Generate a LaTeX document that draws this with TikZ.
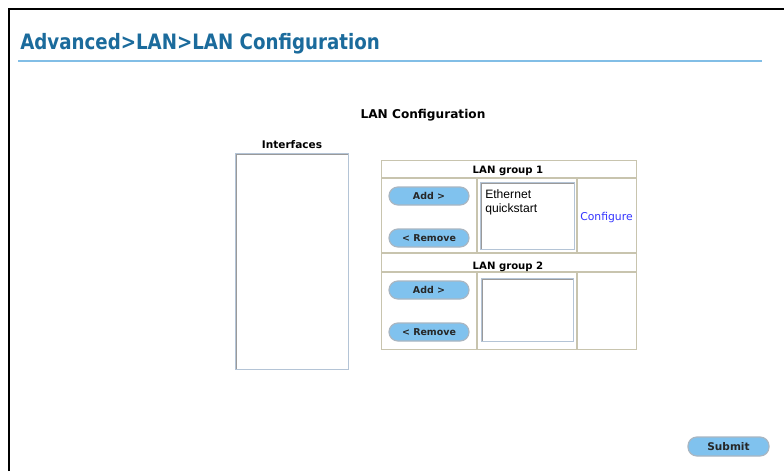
\documentclass[tikz,border=0pt]{standalone}
\usepackage{fontspec}
\setmainfont{DejaVu Sans}
\newfontfamily\titlefont[FakeStretch=0.86]{DejaVu Sans Bold}
\newfontfamily\boldui{DejaVu Sans Bold}
\newfontfamily\arialfont{Liberation Sans}
\definecolor{titleblue}{HTML}{1B6B9C}
\definecolor{rulecol}{HTML}{82BEE6}
\definecolor{tblcol}{HTML}{C8C4AE}
\definecolor{btnfill}{HTML}{80C2EE}
\definecolor{btnedge}{HTML}{A9B6C2}
\definecolor{lbouter}{HTML}{B4C4D6}
\definecolor{lbinner}{HTML}{9A9A9A}
\definecolor{linkblue}{HTML}{3434FF}
\begin{document}
\begin{tikzpicture}[x=0.75pt,y=-0.75pt,
  btn/.style={draw=btnedge, line width=0.9pt, fill=btnfill, rounded corners=6.7pt,
    minimum width=60pt, minimum height=13.5pt, inner sep=0pt,
    font=\boldui\fontsize{7.1}{8}\selectfont, text=black!85},
  listbox/.style={draw=lbouter, line width=0.9pt, fill=white, inner sep=0pt, anchor=north west},
  lbl/.style={font=\boldui\fontsize{7.6}{9}\selectfont, inner sep=0pt, anchor=base},
  tline/.style={draw=tblcol, line width=0.9pt}]
\useasboundingbox (0,0) rectangle (784,471);
\fill[white] (0,0) rectangle (784,471);
% page frame
\draw[line width=2pt] (9,471) -- (9,9) -- (784,9);
% title and rule
\node[anchor=base west, inner sep=0pt, text=titleblue,
      font=\titlefont\fontsize{15.9}{18}\selectfont] (title) at (20,49.5) {Advanced>LAN>LAN Configuration};
\coordinate (ruleL) at (18,61);
\coordinate (ruleR) at (762,61);
\draw[rulecol, line width=0.9pt] (ruleL) -- (ruleR);
% heading
\node[anchor=base, inner sep=0pt, font=\boldui\fontsize{9.1}{11}\selectfont] (heading) at (423,118.5) {LAN Configuration};
% interfaces
\node[lbl, font=\boldui\fontsize{7.9}{9}\selectfont] (iflabel) at (292,148) {Interfaces};
\node[listbox, minimum width=84.75pt, minimum height=162pt] (iflist) at (235,153) {};
\draw[lbinner, line width=0.9pt] ([xshift=1.2pt,yshift=1.2pt]iflist.south west) -- ([xshift=1.2pt,yshift=-1.2pt]iflist.north west) -- ([xshift=-1.2pt,yshift=-1.2pt]iflist.north east);
% table
\node[tline, draw, inner sep=0pt, anchor=north west, minimum width=191.25pt, minimum height=141.75pt] (tbl) at (381,160) {};
\coordinate (h1L) at (381,178); \coordinate (h1R) at (636,178);
\coordinate (r1L) at (381,253); \coordinate (r1R) at (636,253);
\coordinate (h2L) at (381,272); \coordinate (h2R) at (636,272);
\draw[tline] (h1L) -- (h1R);
\draw[tline] (r1L) -- (r1R);
\draw[tline] (h2L) -- (h2R);
\coordinate (c1a) at (477,178); \coordinate (c1b) at (477,253);
\coordinate (c2a) at (577,178); \coordinate (c2b) at (577,253);
\coordinate (c3a) at (477,272); \coordinate (c3b) at (477,349);
\coordinate (c4a) at (577,272); \coordinate (c4b) at (577,349);
\draw[tline] (c1a) -- (c1b);
\draw[tline] (c2a) -- (c2b);
\draw[tline] (c3a) -- (c3b);
\draw[tline] (c4a) -- (c4b);
% group 1
\node[lbl] (g1) at (508,173) {LAN group 1};
\node[btn] (add1) at (429,196) {Add >};
\node[btn] (rem1) at (429,238) {< Remove};
\node[listbox, minimum width=70.5pt, minimum height=50.25pt] (lb1) at (480,182) {};
\draw[lbinner, line width=0.9pt] ([xshift=1.2pt,yshift=1.2pt]lb1.south west) -- ([xshift=1.2pt,yshift=-1.2pt]lb1.north west) -- ([xshift=-1.2pt,yshift=-1.2pt]lb1.north east);
\node[anchor=base west, inner sep=0pt, font=\arialfont\fontsize{9.1}{11}\selectfont] (eth) at (485,198) {Ethernet};
\node[anchor=base west, inner sep=0pt, font=\arialfont\fontsize{9.1}{11}\selectfont] (qs) at (485,212.5) {quickstart};
\node[anchor=base, inner sep=0pt, text=linkblue, font=\fontsize{8.1}{9}\selectfont] (cfg) at (606.5,220) {Configure};
% group 2
\node[lbl] (g2) at (508,269) {LAN group 2};
\node[btn] (add2) at (429,290) {Add >};
\node[btn] (rem2) at (429,332) {< Remove};
\node[listbox, minimum width=69pt, minimum height=47.25pt] (lb2) at (481,278) {};
\draw[lbinner, line width=0.9pt] ([xshift=1.2pt,yshift=1.2pt]lb2.south west) -- ([xshift=1.2pt,yshift=-1.2pt]lb2.north west) -- ([xshift=-1.2pt,yshift=-1.2pt]lb2.north east);
% submit
\node[btn, minimum width=60.75pt, minimum height=14.25pt, font=\boldui\fontsize{7.9}{9}\selectfont] (submit) at (728.5,446.5) {Submit};
\end{tikzpicture}
\end{document}
